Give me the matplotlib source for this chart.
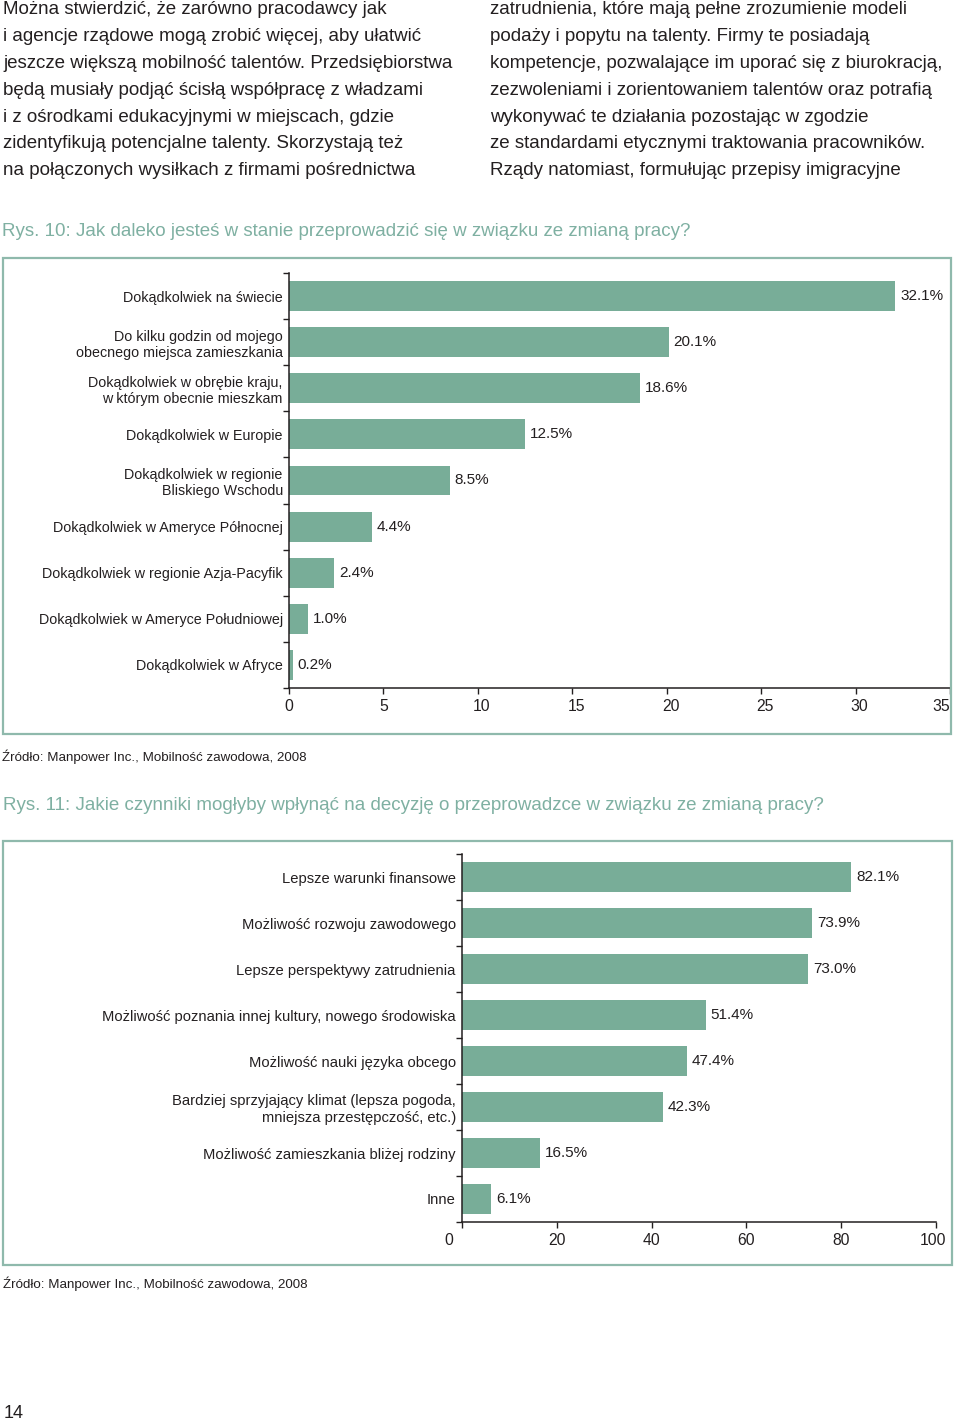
import matplotlib
matplotlib.use("Agg")
import matplotlib.pyplot as plt
from matplotlib.patches import Rectangle
from matplotlib.transforms import ScaledTranslation

plt.rcParams['font.family'] = ['Liberation Sans', 'DejaVu Sans']

W, H = 960, 1421
TXT = '#231f20'
BAR = '#78ad98'
FRAME = '#8fb9ac'
TITLE = '#7fb0a2'

left_col = [
    "Można stwierdzić, że zarówno pracodawcy jak",
    "i agencje rządowe mogą zrobić więcej, aby ułatwić",
    "jeszcze większą mobilność talentów. Przedsiębiorstwa",
    "będą musiały podjąć ścisłą współpracę z władzami",
    "i z ośrodkami edukacyjnymi w miejscach, gdzie",
    "zidentyfikują potencjalne talenty. Skorzystają też",
    "na połączonych wysiłkach z firmami pośrednictwa",
]
right_col = [
    "zatrudnienia, które mają pełne zrozumienie modeli",
    "podaży i popytu na talenty. Firmy te posiadają",
    "kompetencje, pozwalające im uporać się z biurokracją,",
    "zezwoleniami i zorientowaniem talentów oraz potrafią",
    "wykonywać te działania pozostając w zgodzie",
    "ze standardami etycznymi traktowania pracowników.",
    "Rządy natomiast, formułując przepisy imigracyjne",
]

title1 = "Rys. 10: Jak daleko jesteś w stanie przeprowadzić się w związku ze zmianą pracy?"
cats1 = [
    "Dokądkolwiek na świecie",
    "Do kilku godzin od mojego\nobecnego miejsca zamieszkania",
    "Dokądkolwiek w obrębie kraju,\nw którym obecnie mieszkam",
    "Dokądkolwiek w Europie",
    "Dokądkolwiek w regionie\nBliskiego Wschodu",
    "Dokądkolwiek w Ameryce Północnej",
    "Dokądkolwiek w regionie Azja-Pacyfik",
    "Dokądkolwiek w Ameryce Południowej",
    "Dokądkolwiek w Afryce",
]
vals1 = [32.1, 20.1, 18.6, 12.5, 8.5, 4.4, 2.4, 1.0, 0.2]
ticks1 = [0, 5, 10, 15, 20, 25, 30, 35]

title2 = "Rys. 11: Jakie czynniki mogłyby wpłynąć na decyzję o przeprowadzce w związku ze zmianą pracy?"
cats2 = [
    "Lepsze warunki finansowe",
    "Możliwość rozwoju zawodowego",
    "Lepsze perspektywy zatrudnienia",
    "Możliwość poznania innej kultury, nowego środowiska",
    "Możliwość nauki języka obcego",
    "Bardziej sprzyjający klimat (lepsza pogoda,\nmniejsza przestępczość, etc.)",
    "Możliwość zamieszkania bliżej rodziny",
    "Inne",
]
vals2 = [82.1, 73.9, 73.0, 51.4, 47.4, 42.3, 16.5, 6.1]
ticks2 = [0, 20, 40, 60, 80, 100]

source = "Źródło: Manpower Inc., Mobilność zawodowa, 2008"


def box(l, t, r, b):
    return [l / W, 1 - b / H, (r - l) / W, (b - t) / H]


def ftext(x, y, s, **kw):
    fig.text(x / W, 1 - y / H, s, va='center', **kw)


def frame(l, t, r, b):
    fig.add_artist(Rectangle((l / W, 1 - b / H), (r - l) / W, (b - t) / H,
                             transform=fig.transFigure, fill=False,
                             edgecolor=FRAME, linewidth=1.6))


def nudge(lbl, dx_px):
    lbl.set_transform(lbl.get_transform() + ScaledTranslation(dx_px / 100, 0, fig.dpi_scale_trans))


def barchart(ax, cats, vals, ticks, xmax, catsize):
    n = len(cats)
    pos = list(range(n))
    ax.barh(pos, vals, height=0.65, color=BAR, zorder=2)
    ax.set_ylim(n - 0.5, -0.5)
    ax.set_xlim(0, xmax)
    # tick marks between the categories, labels in the middle
    ax.set_yticks([p - 0.5 for p in pos] + [n - 0.5])
    ax.set_yticklabels([])
    ax.set_yticks(pos, minor=True)
    ax.set_yticklabels(cats, minor=True, fontsize=catsize, color=TXT)
    ax.tick_params(axis='y', which='major', length=4.5, width=1, color=TXT)
    ax.tick_params(axis='y', which='minor', length=0, pad=4.5)
    ax.set_xticks(ticks)
    ax.set_xticklabels([str(t) for t in ticks], fontsize=11.3, color=TXT)
    ax.tick_params(axis='x', length=4, width=1, color=TXT, pad=4)
    for s in ['top', 'right']:
        ax.spines[s].set_visible(False)
    for s in ['left', 'bottom']:
        ax.spines[s].set_linewidth(1.1)
        ax.spines[s].set_color(TXT)
    for p, v in zip(pos, vals):
        ax.annotate(f"{v:.1f}%", (v, p), xytext=(3.5, 0), textcoords='offset points',
                    va='center', ha='left', fontsize=11, color=TXT)


fig = plt.figure(figsize=(W / 100, H / 100), dpi=100)

# body text
for i, line in enumerate(left_col):
    ftext(3, 10 + i * 26.8, line, fontsize=13.5, color=TXT)
for i, line in enumerate(right_col):
    ftext(490, 10 + i * 26.8, line, fontsize=13.5, color=TXT)

# chart 1
ftext(2, 232, title1, fontsize=13.5, color=TITLE)
frame(3, 258, 951, 734)
ax1 = fig.add_axes(box(289, 273, 950, 688))
barchart(ax1, cats1, vals1, ticks1, 35, 10.3)
xl1 = ax1.get_xticklabels()
for lbl in xl1[2:-1]:
    nudge(lbl, 4)
xl1[-1].set_ha('right')
ftext(2, 757, source, fontsize=9.6, color=TXT)

# chart 2
ftext(3, 805, title2, fontsize=13.5, color=TITLE)
frame(3, 841, 952, 1265)
ax2 = fig.add_axes(box(462, 854, 936, 1222))
barchart(ax2, cats2, vals2, ticks2, 100, 10.6)
xl2 = ax2.get_xticklabels()
nudge(xl2[0], -13)
nudge(xl2[-1], -3)
ftext(3, 1284, source, fontsize=9.6, color=TXT)

ftext(4, 1413, "14", fontsize=13, color=TXT)

fig.savefig("out.png", dpi=100)
